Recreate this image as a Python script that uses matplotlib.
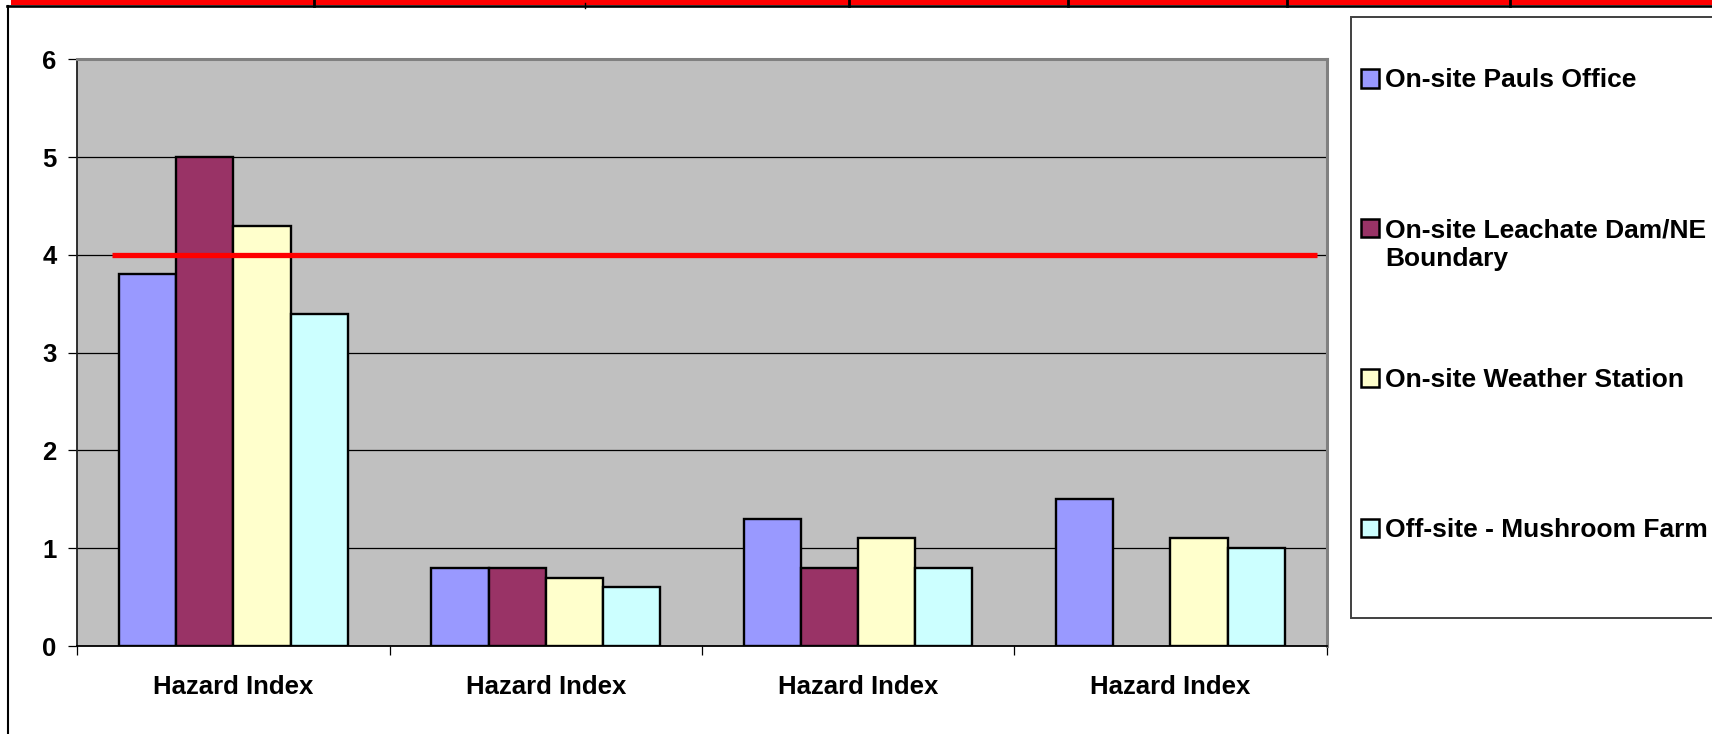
import numpy as np
import matplotlib.pyplot as plt
import matplotlib.patches as patches
from matplotlib.lines import Line2D

plt.rcParams['font.family'] = ['Liberation Sans', 'DejaVu Sans']
plt.rcParams['font.weight'] = 'bold'

categories = ["Hazard Index", "Hazard Index", "Hazard Index", "Hazard Index"]
series_names = ["On-site Pauls Office", "On-site Leachate Dam/NE\nBoundary",
                "On-site Weather Station", "Off-site - Mushroom Farm"]
pauls_office = [3.8, 0.8, 1.3, 1.5]
leachate_dam = [5.0, 0.8, 0.8, np.nan]
weather_station = [4.3, 0.7, 1.1, 1.1]
mushroom_farm = [3.4, 0.6, 0.8, 1.0]
threshold = 4
colors = ["#9999FF", "#993366", "#FFFFCC", "#CCFFFF"]

W, H = 1712, 734


def fx(px):
    return px / W


def fy(py):
    return 1 - py / H


fig = plt.figure(figsize=(W / 100, H / 100), dpi=100)
ax = fig.add_axes([fx(77.3), fy(646), fx(1326.5) - fx(77.3), fy(59.3) - fy(646)])
ax.set_facecolor("#C0C0C0")

x = np.arange(len(categories))
bw = 0.183
all_series = [pauls_office, leachate_dam, weather_station, mushroom_farm]
for i, vals in enumerate(all_series):
    ax.bar(x + (i - 1.5) * bw, vals, bw, color=colors[i], edgecolor="black",
           linewidth=1.7, zorder=3)

ax.hlines(threshold, -0.39, 3.47, color="#FF0000", linewidth=3.8, zorder=4)

ax.set_xlim(-0.5, len(categories) - 0.5)
ax.set_ylim(0, 6)
ax.set_yticks(range(0, 7))
ax.yaxis.grid(True, color="black", linewidth=0.9, zorder=1)
ax.set_axisbelow(True)

ax.set_xticks(np.arange(-0.5, len(categories), 1.0))
ax.set_xticklabels([])
ax.set_xticks(x, minor=True)
ax.set_xticklabels(categories, minor=True)
ax.tick_params(axis="x", which="major", length=6.5, width=0.9, color="black")
ax.tick_params(axis="x", which="minor", length=0, pad=21, labelsize=18.5)
ax.tick_params(axis="y", length=6.5, width=0.9, pad=8.5, labelsize=18.5)

for side in ["top", "right"]:
    ax.spines[side].set_color("#808080")
    ax.spines[side].set_linewidth(2.2)
ax.spines["left"].set_color("#202020")
ax.spines["left"].set_linewidth(1.3)
ax.spines["bottom"].set_color("black")
ax.spines["bottom"].set_linewidth(1.3)

# legend panel on the right
box = patches.Rectangle((fx(1351), fy(617.7)), 0.3, fy(17.3) - fy(617.7),
                        transform=fig.transFigure, facecolor="white",
                        edgecolor="#404040", linewidth=1.4, clip_on=False)
fig.patches.append(box)
for i, name in enumerate(series_names):
    cy = 78.5 + i * 149.8
    sq = patches.Rectangle((fx(1360.5), fy(cy + 9)), fx(18), fy(0) - fy(18),
                           transform=fig.transFigure, facecolor=colors[i],
                           edgecolor="black", linewidth=1.8)
    fig.patches.append(sq)
    for k, line in enumerate(name.split("\n")):
        fig.text(fx(1385), fy(cy + 8.8 + 29 * k), line, fontsize=19,
                 fontweight="bold", va="baseline", ha="left")

# sheet strip across the top and frame on the left
fig.patches.append(patches.Rectangle((fx(11), fy(4.7)), 1, fy(0) - fy(4.7),
                                     transform=fig.transFigure,
                                     facecolor="#FF0000", edgecolor="none"))
fig.lines.append(Line2D([fx(7), 1], [fy(6), fy(6)], transform=fig.transFigure,
                        color="black", linewidth=1.9))
for xd in [313.5, 849, 1068, 1287, 1510]:
    fig.lines.append(Line2D([fx(xd), fx(xd)], [fy(0), fy(6)],
                            transform=fig.transFigure, color="black",
                            linewidth=2.0))
fig.lines.append(Line2D([fx(585), fx(585)], [fy(3), fy(8)],
                        transform=fig.transFigure, color="black", linewidth=1.0))
fig.lines.append(Line2D([fx(8), fx(8)], [fy(6), 0],
                        transform=fig.transFigure, color="black", linewidth=1.5))

fig.savefig("out.png", dpi=100)
